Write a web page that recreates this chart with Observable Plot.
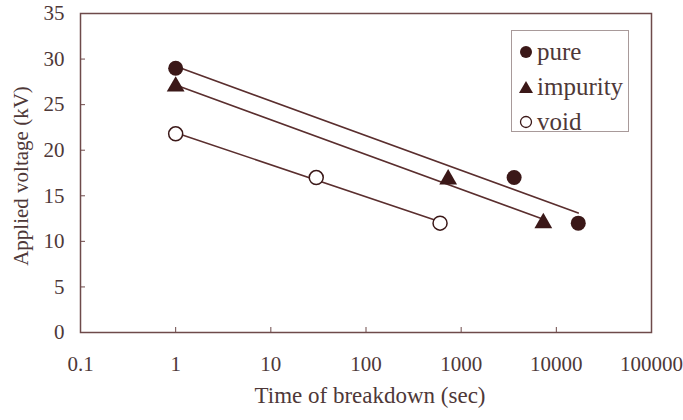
<!DOCTYPE html>
<html>
<head>
<meta charset="utf-8">
<script src="https://cdn.jsdelivr.net/npm/d3@7"></script>
<script src="https://cdn.jsdelivr.net/npm/@observablehq/plot@0.6"></script>
<style>
  body { margin: 0; background: #fff; }
  #wrap { position: relative; width: 683px; height: 420px; font-family: "Liberation Serif", "Times New Roman", serif; }
  #legend { position: absolute; left: 511px; top: 30px; width: 118px; height: 102px; border: 1px solid #a89a9a; box-sizing: border-box; background: #fff; }
  .li { position: absolute; left: 0; height: 30px; display: flex; align-items: center; font-size: 25px; color: #4e3838; }
  .li svg { margin-left: 7px; margin-right: 4px; }
</style>
</head>
<body>
<div id="wrap">
  <div id="chart"></div>
  <div id="legend"></div>
</div>
<script>
// ---- data ----
const seriesNames = ["pure", "impurity", "void"];
const pureTime = [1, 3600, 17000];
const pureVoltage = [29, 17, 12];
const impurityTime = [1, 730, 7300];
const impurityVoltage = [27, 16.8, 12];
const voidTime = [1, 30, 600];
const voidVoltage = [21.8, 17, 12];
const xTicks = [0.1, 1, 10, 100, 1000, 10000, 100000];
const yTicks = [0, 5, 10, 15, 20, 25, 30, 35];
const xTitle = "Time of breakdown (sec)";
const yTitle = "Applied voltage (kV)";

// ---- styling ----
const textColor = "#4e3838";
const lineColor = "#5a2e2e";
const markColor = "#3b1818";
const frameColor = "#6e4a4a";

const seriesData = [
  {name: "pure", t: pureTime, v: pureVoltage, symbol: "circle", fill: markColor, stroke: "none", r: 7.5},
  {name: "impurity", t: impurityTime, v: impurityVoltage, symbol: "triangle", fill: markColor, stroke: "none", r: 6.6},
  {name: "void", t: voidTime, v: voidVoltage, symbol: "circle", fill: "white", stroke: markColor, r: 7}
];

// least-squares trend line on log10(time), spanning each series' data range
function trend(s) {
  const lx = s.t.map(Math.log10);
  const mx = d3.mean(lx), my = d3.mean(s.v);
  const sxy = d3.sum(lx, (x, i) => (x - mx) * (s.v[i] - my));
  const sxx = d3.sum(lx, x => (x - mx) ** 2);
  const b = sxy / sxx, a = my - b * mx;
  const t0 = d3.min(s.t), t1 = d3.max(s.t);
  return [t0, t1].map(t => ({t, v: a + b * Math.log10(t), name: s.name}));
}

const points = seriesData.flatMap(s => s.t.map((t, i) => ({t, v: s.v[i], name: s.name})));
const trends = seriesData.flatMap(trend);

const marks = [
  Plot.frame({stroke: frameColor, strokeWidth: 1.5}),
  Plot.axisX({ticks: xTicks, tickSize: -5, tickFormat: () => "", stroke: frameColor, label: null}),
  Plot.axisX({ticks: xTicks, tickSize: 0, tickPadding: 24, tickFormat: d => String(d), fontSize: 21, fill: textColor, label: null}),
  Plot.axisY({ticks: yTicks, tickSize: -5, tickFormat: () => "", stroke: frameColor, label: null}),
  Plot.axisY({ticks: yTicks, tickSize: 0, tickPadding: 16, fontSize: 21, fill: textColor, label: null}),
  Plot.text([xTitle], {frameAnchor: "bottom", text: d => d, dx: 4, dy: 70, fontSize: 23, fill: textColor}),
  Plot.text([yTitle], {frameAnchor: "left", text: d => d, rotate: -90, textAnchor: "middle", dx: -59, dy: 3, fontSize: 21, fill: textColor})
];

for (const s of seriesData) {
  marks.push(Plot.line(trends.filter(d => d.name === s.name), {x: "t", y: "v", stroke: lineColor, strokeWidth: 1.6}));
}
for (const s of seriesData) {
  marks.push(Plot.dot(points.filter(d => d.name === s.name), {
    x: "t", y: "v", symbol: () => s.symbol, r: s.r, fill: s.fill, stroke: s.stroke, strokeWidth: 1.5
  }));
}

const chart = Plot.plot({
  width: 683,
  height: 420,
  marginLeft: 80,
  marginRight: 32,
  marginTop: 13,
  marginBottom: 88,
  style: {fontFamily: '"Liberation Serif", "Times New Roman", serif', background: "white", overflow: "visible"},
  x: {type: "log", domain: [0.1, 100000], axis: null},
  y: {domain: [0, 35], axis: null},
  symbol: {domain: ["circle", "triangle"], range: ["circle", "triangle"]},
  marks
});
document.getElementById("chart").appendChild(chart);

// ---- legend ----
const legend = document.getElementById("legend");
const legendSymbols = {
  pure: `<svg width="14" height="14"><circle cx="7" cy="7" r="6" fill="${markColor}"/></svg>`,
  impurity: `<svg width="14" height="14"><path d="M7,1L14,13L0,13Z" fill="${markColor}"/></svg>`,
  void: `<svg width="14" height="14"><circle cx="7" cy="7" r="5.5" fill="none" stroke="${markColor}" stroke-width="1.3"/></svg>`
};
seriesNames.forEach((name, i) => {
  const row = document.createElement("div");
  row.className = "li";
  row.style.top = (6 + i * 35) + "px";
  row.innerHTML = legendSymbols[name] + `<span>${name}</span>`;
  legend.appendChild(row);
});
</script>
</body>
</html>
